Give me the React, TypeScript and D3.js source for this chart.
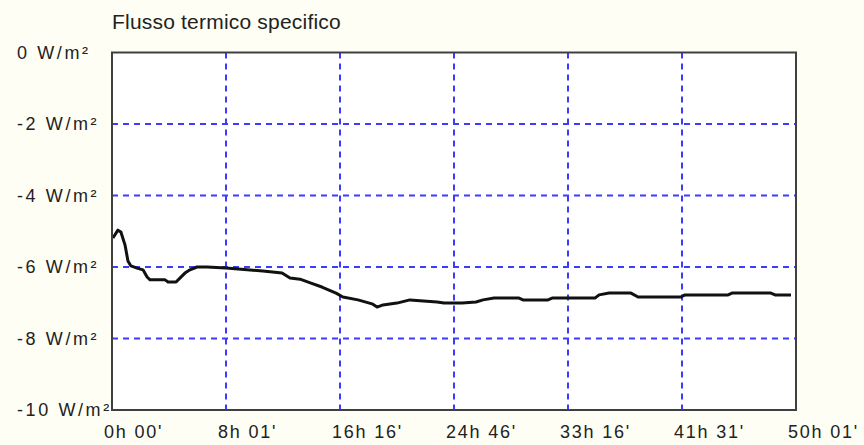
import * as d3 from 'd3'

// elapsed time in minutes, specific heat flux in W/m²
const minutes = [4, 26, 39, 57, 70, 83, 110, 136, 154, 167, 233, 246, 281, 298, 320, 342, 373, 417, 500, 662, 746, 781, 825, 873, 921, 983, 1013, 1079, 1141, 1163, 1189, 1250, 1307, 1426, 1457, 1536, 1597, 1628, 1676, 1786, 1803, 1913, 1931, 2119, 2137, 2181, 2277, 2308, 2496, 2514, 2703, 2720, 2891, 2909, 2979]
const flux = [-5.19, -4.97, -5.02, -5.38, -5.83, -5.97, -6.03, -6.08, -6.28, -6.36, -6.36, -6.42, -6.42, -6.31, -6.17, -6.08, -6.0, -6.0, -6.03, -6.11, -6.17, -6.31, -6.34, -6.45, -6.56, -6.73, -6.84, -6.92, -7.03, -7.12, -7.06, -7.01, -6.92, -6.98, -7.01, -7.01, -6.98, -6.92, -6.87, -6.87, -6.92, -6.92, -6.87, -6.87, -6.78, -6.73, -6.73, -6.84, -6.84, -6.78, -6.78, -6.73, -6.73, -6.78, -6.78]

const timeLabels = ["0h 00'", "8h 01'", "16h 16'", "24h 46'", "33h 16'", "41h 31'", "50h 01'"]
const yTicks = [0, -2, -4, -6, -8, -10]
const totalMinutes = 3001
const title = 'Flusso termico specifico'

const W = 864
const H = 445
const margin = { top: 52.5, right: 68, bottom: 35, left: 112 }

export default function App() {
  const x = d3.scaleLinear().domain([0, totalMinutes]).range([margin.left, W - margin.right])
  const y = d3.scaleLinear().domain([-10, 0]).range([H - margin.bottom, margin.top])

  const xTicks = timeLabels.map((label, i) => ({ label, t: (totalMinutes * i) / (timeLabels.length - 1) }))

  const line = d3.line<number>()
    .x((_, i) => x(minutes[i]))
    .y((d) => y(d))

  const font = '"Liberation Sans", Arial, sans-serif'

  return (
    <div style={{ position: 'absolute', left: 0, top: 0, width: W, height: H }}>
      <svg width={W} height={H} style={{ display: 'block', background: '#fefef4' }}>
        <text x={margin.left} y={29} fontFamily={font} fontSize={21} letterSpacing={0.2} fill="#222">
          {title}
        </text>

        <rect
          x={margin.left}
          y={margin.top}
          width={W - margin.right - margin.left}
          height={H - margin.bottom - margin.top}
          fill="#ffffff"
        />

        {/* grid */}
        {xTicks.slice(1, -1).map((d) => (
          <line
            key={'gx' + d.label}
            x1={x(d.t)}
            x2={x(d.t)}
            y1={margin.top}
            y2={H - margin.bottom}
            stroke="#3c3cff"
            strokeWidth={2}
            strokeDasharray="6,5"
          />
        ))}
        {yTicks.slice(1, -1).map((v) => (
          <line
            key={'gy' + v}
            x1={margin.left}
            x2={W - margin.right}
            y1={y(v)}
            y2={y(v)}
            stroke="#3c3cff"
            strokeWidth={2}
            strokeDasharray="6,5"
          />
        ))}

        <path d={line(flux) ?? ''} fill="none" stroke="#111" strokeWidth={3} strokeLinejoin="round" />

        <rect
          x={margin.left}
          y={margin.top}
          width={W - margin.right - margin.left}
          height={H - margin.bottom - margin.top}
          fill="none"
          stroke="#404040"
          strokeWidth={2}
        />

        {/* y labels */}
        {yTicks.map((v) => (
          <text
            key={'yl' + v}
            x={17}
            y={y(v)}
            dy="0.35em"
            fontFamily={font}
            fontSize={18}
            letterSpacing={2.6}
            fill="#222"
          >
            {`${v} W/m²`}
          </text>
        ))}

        {/* x labels */}
        {xTicks.map((d) => (
          <text
            key={'xl' + d.label}
            x={x(d.t) - 8}
            y={438}
            fontFamily={font}
            fontSize={18}
            letterSpacing={1.8}
            fill="#222"
          >
            {d.label}
          </text>
        ))}
      </svg>
    </div>
  )
}
